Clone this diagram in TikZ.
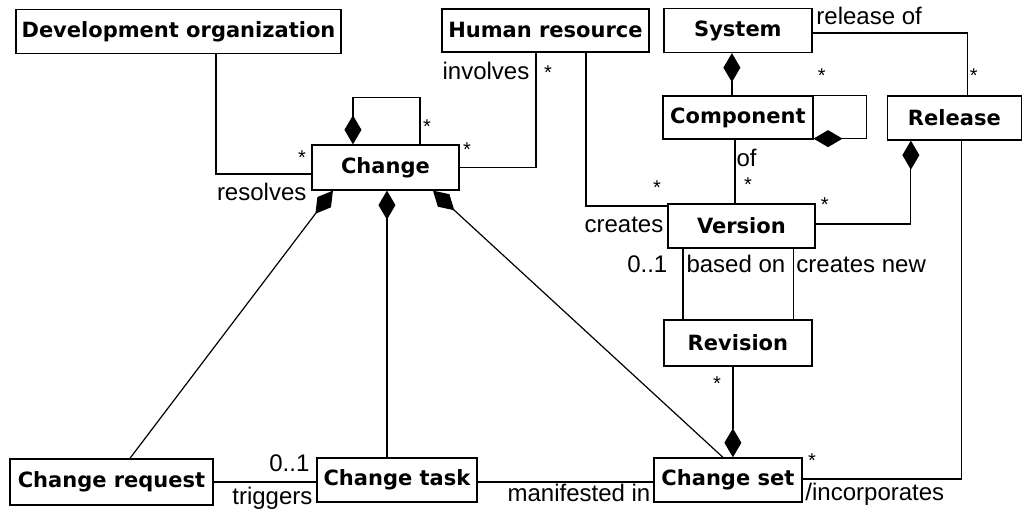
\documentclass[tikz,border=0pt]{standalone}
\usepackage{fontspec}
\usepackage{tikz}
\usetikzlibrary{arrows.meta,positioning}
\newfontfamily\clsfam{DejaVu Sans}
\newfontfamily\lblfam{Liberation Sans}
\tikzset{
  cls/.style={draw, line width=1.3pt, font=\clsfam\bfseries\fontsize{21}{24}\selectfont,
    minimum height=45pt, inner sep=0pt},
  lbl/.style={font=\lblfam\fontsize{24}{27}\selectfont, inner sep=0pt},
  mult/.style={font=\lblfam\fontsize{20}{22}\selectfont, inner sep=0pt, anchor=north},
  comp/.style={arrows={Diamond[length=29pt,width=17pt]-}},
}

\begin{document}
\begin{tikzpicture}[x=1pt,y=-1pt,line width=1.2pt]
\fill[white] (0,0) rectangle (1022,511);

% classes
\node[cls, minimum width=325pt, minimum height=44pt] (devorg) at (178.5,31.5) {Development organization};
\node[cls, minimum width=207pt, minimum height=43pt] (human) at (545.5,30.5) {Human resource};
\node[cls, minimum width=148pt, minimum height=44pt] (system) at (738,30.5) {System};
\node[cls, minimum width=150pt, minimum height=43pt] (component) at (738,117.5) {Component};
\node[cls, minimum width=134pt, minimum height=44pt] (release) at (954.5,118) {Release};
\node[cls, minimum width=147pt] (change) at (385.5,167.5) {Change};
\node[cls, minimum width=147pt, minimum height=44pt] (version) at (741.5,226) {Version};
\node[cls, minimum width=148pt, minimum height=46pt] (revision) at (738,343) {Revision};
\node[cls, minimum width=148pt, minimum height=44pt] (changeset) at (728,480) {Change set};
\node[cls, minimum width=203pt, minimum height=46pt] (changereq) at (111.5,482) {Change request};
\node[cls, minimum width=160pt, minimum height=44pt] (changetask) at (397,480) {Change task};

% associations
\draw ([xshift=37.5pt]devorg.south) |- ([yshift=-6.5pt]change.west);
\draw[comp] ([xshift=-32.5pt]change.north) -- ++(0,-47) -| ([xshift=34.5pt]change.north);
\draw ([xshift=-9.5pt]human.south) |- (change.east);
\draw ([xshift=40.5pt]human.south) |- ([yshift=20pt]version.west);
\draw[comp] ([xshift=-6pt]system.south) -- ([xshift=-6pt]component.north);
\draw ([yshift=-2.5pt]system.east) -| ([xshift=13.5pt]release.north);
\draw[comp] ([yshift=1pt]component.south east) -| ([xshift=53pt]component.north east) -- (component.north east);
\draw ([xshift=-3pt]component.south) -- ([xshift=-6.5pt]version.north);
\draw[comp] ([xshift=-43.5pt]release.south) |- ([yshift=2pt]version.east);
\draw ([xshift=-58.5pt]version.south) -- ([xshift=-55pt]revision.north);
\draw ([xshift=52.5pt]version.south) -- ([xshift=56pt]revision.north);
\draw[comp] ([xshift=5pt]changeset.north) -- ([xshift=-5pt]revision.south);
\draw ([yshift=1pt]changeset.east) -| ([xshift=7.5pt]release.south);
\draw ([yshift=-2pt]changetask.east) -- ([yshift=-2pt]changeset.west);
\draw (changereq.east) -- ([yshift=-2pt]changetask.west);
\draw[comp] ([xshift=-52.5pt]change.south) -- ([xshift=18.5pt]changereq.north);
\draw[comp] ([xshift=1.5pt]change.south) -- ([xshift=-10pt]changetask.north);
\draw[comp] ([xshift=47.5pt]change.south) -- ([xshift=-5pt]changeset.north);

% role names
\node[lbl, anchor=base east] (resolves) at (307,201) {resolves};
\node[lbl, anchor=base east] (involves) at (530,80) {involves};
\node[lbl, anchor=base east] (creates) at (664,233) {creates};
\node[lbl, anchor=base west] (releaseof) at (816,25) {release of};
\node[lbl, anchor=base west] (of) at (736,167) {of};
\node[lbl, anchor=base east] (zeroone) at (668,273) {0..1};
\node[lbl, anchor=base west] (basedon) at (686,273) {based on};
\node[lbl, anchor=base west] (createsnew) at (796,273) {creates new};
\node[lbl, anchor=base east] (zeroonetask) at (310,472) {0..1};
\node[lbl, anchor=base east] (triggers) at (313,505) {triggers};
\node[lbl, anchor=base east] (manifested) at (651,502) {manifested in};
\node[lbl, anchor=base west] (incorporates) at (805,501) {/incorporates};

% multiplicities
\node[mult] (m1) at (302,150) {*};
\node[mult] (m2) at (427,119) {*};
\node[mult] (m3) at (467,142) {*};
\node[mult] (m4) at (548,65) {*};
\node[mult] (m5) at (657,180) {*};
\node[mult] (m6) at (748,177) {*};
\node[mult] (m7) at (822,68) {*};
\node[mult] (m8) at (974,68) {*};
\node[mult] (m9) at (825,197) {*};
\node[mult] (m10) at (717,376) {*};
\node[mult] (m11) at (812,453) {*};
\end{tikzpicture}
\end{document}
